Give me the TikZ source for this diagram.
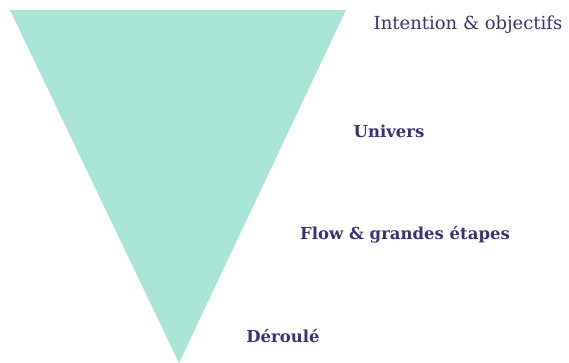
\documentclass[tikz,border=0pt]{standalone}
\usepackage{fontspec}
\setmainfont{DejaVu Serif}
\usetikzlibrary{positioning}
\definecolor{mint}{HTML}{A9E5D7}
\definecolor{ink}{HTML}{3A3278}

\begin{document}
\begin{tikzpicture}[x=1pt,y=1pt,lbl/.style={text=ink,font=\fontsize{18}{20}\selectfont,inner sep=0pt,anchor=base},hvy/.style={lbl,font=\fontsize{16.5}{18}\selectfont\bfseries}]
\useasboundingbox (0,0) rectangle (569,363);
\coordinate (tl) at (10,353);\coordinate (tr) at (346,353);\coordinate (tip) at (179,0);
\fill[mint] (tl)--(tr)--(tip)--cycle;
\node[lbl] (intent) at (468,333) {Intention \& objectifs};
\node[hvy] (univ) at (389,225) {Univers};
\node[hvy] (flow) at (405,123) {Flow \& grandes étapes};
\node[hvy] (deroule) at (283,20) {Déroulé};
\end{tikzpicture}
\end{document}
